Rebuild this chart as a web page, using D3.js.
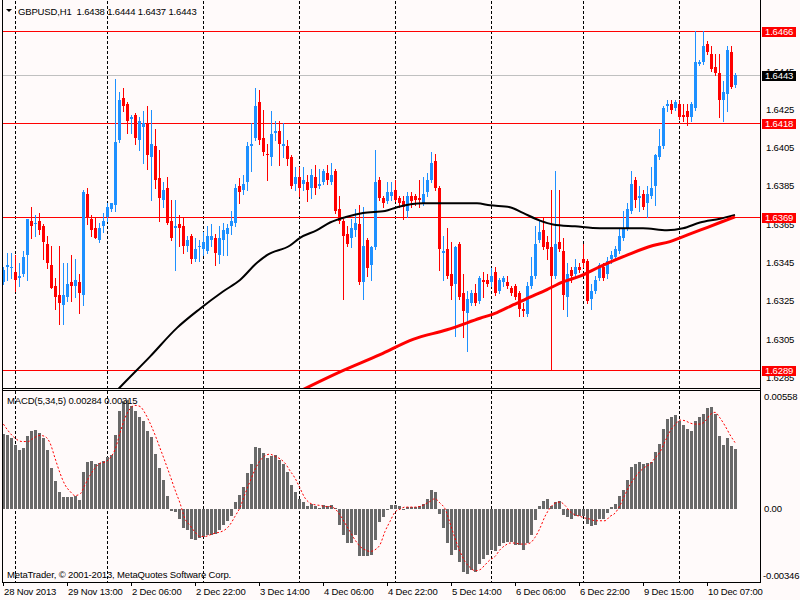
<!DOCTYPE html>
<html lang="en">
<head>
<meta charset="utf-8">
<script src="https://d3js.org/d3.v7.min.js"></script>
<style>
  body { margin: 0; background: #fffafa; }
  svg { display: block; font-family: "Liberation Sans", Arial, sans-serif; font-size: 9.5px; letter-spacing: -0.15px; }
  .grid { stroke: #000; stroke-width: 1; stroke-dasharray: 3,2; }
</style>
</head>
<body>
<div id="chart"></div>
<script>
// GBPUSD H1, 28 Nov 2013 21:00 .. 10 Dec 2013 14:00, one value per bar
var opens = [
  1.6335,1.6343,1.6342,1.6340,1.6337,1.6339,1.6349,1.6367,1.6365,1.6367,
  1.6364,1.6355,1.6344,1.6333,1.6328,1.6323,1.6327,1.6335,1.6333,1.6335,
  1.6328,1.6381,1.6368,1.6363,1.6357,1.6364,1.6369,1.6373,1.6375,1.6409,
  1.6431,1.6428,1.6420,1.6422,1.6409,1.6416,1.6418,1.6400,1.6406,1.6389,
  1.6378,1.6384,1.6367,1.6363,1.6365,1.6364,1.6354,1.6359,1.6347,1.6353,
  1.6352,1.6351,1.6357,1.6358,1.6349,1.6357,1.6360,1.6364,1.6366,1.6385,
  1.6383,1.6387,1.6406,1.6410,1.6429,1.6410,1.6402,1.6400,1.6413,1.6414,
  1.6406,1.6406,1.6400,1.6386,1.6390,1.6386,1.6387,1.6384,1.6390,1.6385,
  1.6387,1.6392,1.6387,1.6393,1.6373,1.6367,1.6360,1.6358,1.6362,1.6365,
  1.6335,1.6357,1.6344,1.6353,1.6388,1.6379,1.6377,1.6380,1.6383,1.6379,
  1.6377,1.6372,1.6380,1.6380,1.6379,1.6376,1.6382,1.6388,1.6398,1.6384,
  1.6350,1.6352,1.6339,1.6334,1.6355,1.6329,1.6319,1.6324,1.6329,1.6325,
  1.6336,1.6336,1.6335,1.6340,1.6330,1.6335,1.6335,1.6332,1.6333,1.6329,
  1.6321,1.6318,1.6333,1.6338,1.6357,1.6362,1.6356,1.6353,1.6338,1.6356,
  1.6351,1.6327,1.6341,1.6339,1.6343,1.6347,1.6346,1.6326,1.6330,1.6337,
  1.6343,1.6339,1.6347,1.6348,1.6351,1.6358,1.6363,1.6372,1.6388,1.6379,
  1.6381,1.6376,1.6380,1.6385,1.6400,1.6406,1.6427,1.6428,1.6426,1.6428,
  1.6422,1.6424,1.6421,1.6426,1.6449,1.6450,1.6459,1.6454,1.6447,1.6444,
  1.6430,1.6433,1.6455,1.6438];
var highs = [
  1.6343,1.6350,1.6350,1.6349,1.6345,1.6351,1.6368,1.6374,1.6370,1.6371,
  1.6365,1.6359,1.6354,1.6337,1.6354,1.6345,1.6345,1.6349,1.6347,1.6339,
  1.6383,1.6384,1.6370,1.6369,1.6366,1.6371,1.6376,1.6376,1.6441,1.6434,
  1.6436,1.6429,1.6422,1.6423,1.6421,1.6424,1.6427,1.6425,1.6415,1.6404,
  1.6387,1.6390,1.6378,1.6378,1.6370,1.6369,1.6359,1.6360,1.6358,1.6357,
  1.6361,1.6364,1.6365,1.6360,1.6364,1.6366,1.6365,1.6372,1.6386,1.6389,
  1.6391,1.6408,1.6418,1.6436,1.6435,1.6425,1.6407,1.6424,1.6419,1.6419,
  1.6418,1.6409,1.6401,1.6395,1.6395,1.6395,1.6391,1.6394,1.6396,1.6394,
  1.6394,1.6396,1.6397,1.6394,1.6380,1.6368,1.6364,1.6368,1.6373,1.6375,
  1.6374,1.6358,1.6354,1.6404,1.6390,1.6380,1.6387,1.6387,1.6388,1.6380,
  1.6380,1.6382,1.6382,1.6381,1.6388,1.6390,1.6392,1.6403,1.6402,1.6385,
  1.6359,1.6363,1.6356,1.6354,1.6356,1.6339,1.6330,1.6331,1.6334,1.6338,
  1.6340,1.6339,1.6342,1.6343,1.6337,1.6338,1.6338,1.6333,1.6334,1.6330,
  1.6324,1.6335,1.6348,1.6364,1.6367,1.6369,1.6359,1.6383,1.6393,1.6383,
  1.6358,1.6345,1.6343,1.6347,1.6345,1.6355,1.6347,1.6334,1.6338,1.6345,
  1.6345,1.6348,1.6351,1.6354,1.6363,1.6372,1.6376,1.6393,1.6390,1.6385,
  1.6383,1.6385,1.6395,1.6402,1.6415,1.6427,1.6430,1.6430,1.6430,1.6430,
  1.6428,1.6428,1.6429,1.6466,1.6451,1.6466,1.6461,1.6458,1.6454,1.6454,
  1.6440,1.6458,1.6458,1.6444];
var lows = [
  1.6334,1.6336,1.6337,1.6330,1.6333,1.6338,1.6336,1.6358,1.6359,1.6360,
  1.6347,1.6342,1.6332,1.6321,1.6313,1.6313,1.6325,1.6325,1.6327,1.6319,
  1.6323,1.6365,1.6359,1.6358,1.6356,1.6361,1.6367,1.6372,1.6372,1.6408,
  1.6424,1.6413,1.6413,1.6407,1.6404,1.6397,1.6394,1.6378,1.6384,1.6367,
  1.6374,1.6365,1.6357,1.6341,1.6354,1.6350,1.6351,1.6345,1.6346,1.6346,
  1.6349,1.6350,1.6354,1.6344,1.6345,1.6349,1.6349,1.6360,1.6364,1.6376,
  1.6381,1.6383,1.6393,1.6409,1.6407,1.6401,1.6388,1.6396,1.6409,1.6396,
  1.6400,1.6396,1.6384,1.6383,1.6380,1.6383,1.6377,1.6379,1.6381,1.6384,
  1.6386,1.6386,1.6386,1.6371,1.6366,1.6326,1.6354,1.6353,1.6359,1.6334,
  1.6326,1.6338,1.6336,1.6352,1.6378,1.6374,1.6376,1.6378,1.6377,1.6374,
  1.6368,1.6369,1.6374,1.6375,1.6374,1.6375,1.6380,1.6387,1.6383,1.6341,
  1.6336,1.6337,1.6326,1.6307,1.6326,1.6306,1.6299,1.6323,1.6323,1.6324,
  1.6327,1.6333,1.6333,1.6328,1.6329,1.6333,1.6332,1.6328,1.6326,1.6317,
  1.6317,1.6317,1.6332,1.6337,1.6356,1.6352,1.6347,1.6289,1.6337,1.6351,
  1.6321,1.6317,1.6335,1.6337,1.6340,1.6343,1.6324,1.6321,1.6329,1.6336,
  1.6336,1.6337,1.6345,1.6347,1.6350,1.6357,1.6362,1.6371,1.6374,1.6372,
  1.6373,1.6369,1.6379,1.6375,1.6399,1.6405,1.6424,1.6423,1.6425,1.6420,
  1.6419,1.6417,1.6419,1.6425,1.6448,1.6449,1.6454,1.6445,1.6443,1.6421,
  1.6419,1.6424,1.6436,1.6437];
var closes = [
  1.6341,1.6344,1.6343,1.6336,1.6338,1.6348,1.6368,1.6364,1.6366,1.6362,
  1.6356,1.6345,1.6332,1.6327,1.6324,1.6328,1.6334,1.6333,1.6336,1.6329,
  1.6382,1.6369,1.6362,1.6358,1.6363,1.6367,1.6374,1.6376,1.6408,1.6430,
  1.6427,1.6419,1.6421,1.6410,1.6419,1.6418,1.6401,1.6407,1.6388,1.6379,
  1.6383,1.6366,1.6358,1.6364,1.6363,1.6354,1.6357,1.6347,1.6352,1.6354,
  1.6356,1.6359,1.6359,1.6350,1.6358,1.6362,1.6363,1.6367,1.6384,1.6382,
  1.6386,1.6406,1.6407,1.6427,1.6409,1.6403,1.6401,1.6412,1.6414,1.6407,
  1.6407,1.6399,1.6385,1.6390,1.6384,1.6388,1.6383,1.6391,1.6384,1.6386,
  1.6393,1.6388,1.6391,1.6372,1.6367,1.6359,1.6355,1.6363,1.6366,1.6335,
  1.6354,1.6342,1.6353,1.6387,1.6379,1.6376,1.6382,1.6382,1.6378,1.6376,
  1.6374,1.6380,1.6377,1.6378,1.6378,1.6381,1.6388,1.6397,1.6384,1.6352,
  1.6351,1.6338,1.6333,1.6353,1.6327,1.6320,1.6326,1.6329,1.6324,1.6337,
  1.6335,1.6334,1.6338,1.6329,1.6336,1.6337,1.6333,1.6329,1.6327,1.6321,
  1.6320,1.6333,1.6338,1.6355,1.6361,1.6353,1.6352,1.6338,1.6355,1.6352,
  1.6328,1.6339,1.6338,1.6343,1.6341,1.6345,1.6325,1.6330,1.6336,1.6344,
  1.6337,1.6346,1.6349,1.6352,1.6359,1.6363,1.6373,1.6386,1.6378,1.6380,
  1.6374,1.6381,1.6384,1.6401,1.6406,1.6426,1.6428,1.6425,1.6429,1.6421,
  1.6421,1.6421,1.6428,1.6450,1.6450,1.6458,1.6455,1.6446,1.6444,1.6430,
  1.6434,1.6456,1.6437,1.6443];

// MACD(5,34,5) histogram, one value per bar
var macdHist = [
  0.00355,0.00352,0.00336,0.00305,0.00281,0.00289,0.00344,0.00368,0.00373,0.00360,
  0.00336,0.00281,0.00194,0.00130,0.00079,0.00056,0.00056,0.00056,0.00063,0.00043,
  0.00175,0.00222,0.00225,0.00213,0.00217,0.00225,0.00244,0.00257,0.00352,0.00463,
  0.00511,0.00519,0.00487,0.00463,0.00435,0.00416,0.00368,0.00340,0.00260,0.00194,
  0.00138,0.00063,-0.00010,-0.00013,-0.00048,-0.00092,-0.00100,-0.00143,-0.00148,-0.00140,
  -0.00132,-0.00124,-0.00124,-0.00121,-0.00100,-0.00079,-0.00057,-0.00036,0.00032,0.00067,
  0.00102,0.00170,0.00213,0.00292,0.00289,0.00265,0.00241,0.00249,0.00254,0.00233,
  0.00213,0.00175,0.00111,0.00079,0.00048,0.00032,0.00011,0.00022,0.00011,0.00006,
  0.00016,0.00011,0.00016,0.00002,-0.00076,-0.00124,-0.00163,-0.00163,-0.00124,-0.00227,
  -0.00227,-0.00227,-0.00219,-0.00148,-0.00063,-0.00040,-0.00005,0.00019,0.00019,0.00014,
  -0.00005,0.00008,0.00008,0.00008,0.00014,0.00024,0.00048,0.00089,0.00079,-0.00025,
  -0.00092,-0.00163,-0.00219,-0.00195,-0.00254,-0.00301,-0.00309,-0.00290,-0.00301,-0.00263,
  -0.00240,-0.00219,-0.00195,-0.00200,-0.00179,-0.00163,-0.00159,-0.00159,-0.00171,-0.00171,
  -0.00195,-0.00163,-0.00124,-0.00052,0.00014,0.00038,0.00048,0.00014,0.00030,0.00035,
  -0.00029,-0.00040,-0.00048,-0.00036,-0.00036,-0.00036,-0.00073,-0.00084,-0.00076,-0.00049,
  -0.00049,-0.00021,0.00010,0.00022,0.00062,0.00090,0.00136,0.00198,0.00213,0.00222,
  0.00213,0.00217,0.00222,0.00270,0.00309,0.00381,0.00427,0.00436,0.00444,0.00420,
  0.00397,0.00379,0.00371,0.00416,0.00435,0.00451,0.00479,0.00482,0.00451,0.00344,
  0.00305,0.00336,0.00297,0.00284];

// signal line, read at these bar positions
var sigPos = [0.1,1.3,3,4.7,6.3,7.6,9.25,10.5,11.75,13,14.25,15.5,16.75,18,19.25,20.5,21.75,23,24.25,25.5,
  26.75,28,29.25,30.5,31.75,33,34.25,35.5,36.75,38,39.25,40.5,41.75,43,44.25,45.5,46.75,48,49.25,50.5,
  51.75,53,54.25,55.5,56.75,58,59.25,60.5,61.75,63,64.25,65.5,66.75,68,69.25,70.5,71.75,73,74.25,75.5,
  76.75,78,79.25,80.5,81.75,83,84.25,85.5,86.75,88,89.25,90.5,91.75,
  93,94.25,95.5,96.75,98,99.25,100.5,101.75,103,104.25,105.5,106.75,108,109.25,110.5,111.75,113,114.25,
  115.5,116.75,118,119.25,120.5,121.75,123,124.25,125.5,126.75,128,129.25,130.5,131.75,133,134.25,135.5,
  136.75,138,139.25,140.5,141.75,143,144.25,145.5,146.75,148,149.25,150.5,151.75,153,154.25,155.5,156.75,
  158,159.25,160.5,161.75,163,164.25,165.5,166.75,168,169.25,170.5,171.75,173,174.25,175.5,176.75,178,
  179.25,180.5,181.75,183];
var sigVal = [0.00403,0.00371,0.00336,0.00320,0.00320,0.00336,0.00349,0.00344,0.00313,0.00241,
  0.00170,0.00114,0.00083,0.00063,0.00070,0.00114,0.00159,0.00194,0.00217,0.00222,
  0.00241,0.00281,0.00360,0.00432,0.00476,0.00492,0.00487,0.00455,0.00408,0.00352,
  0.00289,0.00225,0.00159,0.00090,0.00027,-0.00048,-0.00079,-0.00111,-0.00132,-0.00132,
  -0.00124,-0.00116,-0.00111,-0.00100,-0.00076,-0.00036,0.00006,0.00070,0.00130,0.00186,
  0.00228,0.00252,0.00260,0.00249,0.00238,0.00217,0.00181,0.00146,0.00098,0.00051,
  0.00027,0.00019,0.00016,0.00011,0.00011,0.00000,-0.00029,-0.00068,-0.00108,-0.00148,
  -0.00179,-0.00195,-0.00203,
  -0.00195,-0.00171,-0.00108,-0.00060,-0.00016,-0.00002,0.00008,0.00008,0.00008,0.00011,
  0.00022,0.00035,0.00048,0.00027,0.00000,-0.00068,-0.00140,-0.00203,-0.00251,-0.00279,
  -0.00295,-0.00290,-0.00267,-0.00243,-0.00227,-0.00195,-0.00175,-0.00163,-0.00163,-0.00168,
  -0.00168,-0.00163,-0.00136,-0.00092,-0.00036,0.00003,0.00027,0.00032,0.00016,-0.00013,
  -0.00029,-0.00036,-0.00044,-0.00049,-0.00057,-0.00057,-0.00057,-0.00036,-0.00021,0.00016,
  0.00067,0.00114,0.00149,0.00178,0.00198,0.00213,0.00241,0.00270,0.00320,0.00368,
  0.00400,0.00422,0.00419,0.00408,0.00403,0.00403,0.00416,0.00447,0.00459,0.00432,
  0.00395,0.00352,0.00315];

// moving averages (black = fast, red = slow), read at bar positions
var maFastPos = [27,29.25,36.75,43.5,49.25,55,59.25,63.5,66,71.75,74.25,78.5,81.75,86,90,95.5,98.5,105,
  118.5,121.75,126.75,130,134.25,137.5,143,149.25,160,166,170,174.25,179.25,183];
var maFastVal = [1.6275,1.6280,1.6296,1.6311,1.6321,1.6330,1.6336,1.6345,1.6349,1.6354,1.6358,1.6362,
  1.6366,1.6369,1.6371,1.6372,1.6374,1.6376,1.6376,1.6375,1.6374,1.6371,1.6367,1.6365,1.6364,1.6363,
  1.6363,1.6362,1.6363,1.6366,1.6368,1.6370];
var maSlowPos = [74.25,84.25,94.25,102.5,111,119.25,123.5,127.5,131.75,136,140,144.25,149.25,156,162.5,
  166.75,169.25,174.25,179.25,183];
var maSlowVal = [1.6278,1.6288,1.6297,1.6305,1.6310,1.6316,1.6319,1.6323,1.6327,1.6331,1.6335,1.6338,
  1.6343,1.6349,1.6354,1.6356,1.6358,1.6362,1.6366,1.6369];

// horizontal levels and labels
var levels = [1.6466, 1.6418, 1.6369, 1.6289];
var bidPrice = 1.6443;
var priceTicks = [1.6445, 1.6425, 1.6405, 1.6385, 1.6365, 1.6345, 1.6325, 1.6305, 1.6285];
var macdTicks = [0.00558, 0.00, -0.00346];
var macdTickLabels = ["0.00558", "0.00", "-0.00346"];
var dayStarts = [3, 26, 50, 74, 98, 122, 145, 169];
var timeTickIdx = [0, 16, 32, 48, 64, 80, 96, 112, 128, 144, 160, 176];
var timeTickLabels = ["28 Nov 2013", "29 Nov 13:00", "2 Dec 06:00", "2 Dec 22:00", "3 Dec 14:00",
  "4 Dec 06:00", "4 Dec 22:00", "5 Dec 14:00", "6 Dec 06:00", "6 Dec 22:00", "9 Dec 15:00", "10 Dec 07:00"];

var width = 800, height = 600;
var main = {left: 2, right: 760, top: 1, bottom: 388};
var sub = {top: 391, bottom: 582};
var blue = "#1e90ff", red = "#ff0000";

var svg = d3.select("#chart").append("svg")
  .attr("width", width)
  .attr("height", height);

svg.append("rect").attr("width", width).attr("height", height).attr("fill", "#fffafa");

var x = d3.scaleLinear().domain([0, 183]).range([3, 735]);
var y = d3.scaleLinear().domain([1.6289, 1.6466]).range([370, 31]);
var yM = d3.scaleLinear().domain([-0.00346, 0.00558]).range([581.5, 391.5]);

var defs = svg.append("defs");
defs.append("clipPath").attr("id", "clipMain").append("rect")
  .attr("x", main.left + 1).attr("y", main.top + 1)
  .attr("width", main.right - main.left - 1).attr("height", main.bottom - main.top - 1);
defs.append("clipPath").attr("id", "clipSub").append("rect")
  .attr("x", main.left + 1).attr("y", sub.top)
  .attr("width", main.right - main.left - 1).attr("height", sub.bottom - sub.top);

var px = function(i) { return Math.round(x(i)); };

// day separators in both panels
[[main.top, main.bottom], [sub.top, sub.bottom]].forEach(function(r) {
  svg.append("g").selectAll("line")
    .data(dayStarts)
    .enter().append("line")
      .attr("class", "grid")
      .attr("x1", function(d) { return px(d) + 0.5; })
      .attr("x2", function(d) { return px(d) + 0.5; })
      .attr("y1", r[0])
      .attr("y2", r[1]);
});

var gMain = svg.append("g").attr("clip-path", "url(#clipMain)");

// price levels, 1px bands
gMain.append("rect")
  .attr("x", main.left).attr("width", main.right - main.left)
  .attr("y", Math.round(y(bidPrice))).attr("height", 1)
  .attr("fill", "#c0c0c0");
gMain.append("g")
  .selectAll("rect")
  .data(levels)
  .enter().append("rect")
    .attr("x", main.left).attr("width", main.right - main.left)
    .attr("y", function(d) { return Math.round(y(d)); })
    .attr("height", 1)
    .attr("fill", red);

// candles
var bars = d3.range(opens.length).map(function(i) {
  return {i: i, o: opens[i], h: highs[i], l: lows[i], c: closes[i]};
});
var candle = gMain.append("g").attr("shape-rendering", "crispEdges")
  .selectAll("g")
  .data(bars)
  .enter().append("g")
    .attr("fill", function(d) { return d.c >= d.o ? blue : red; })
    .attr("stroke", function(d) { return d.c >= d.o ? blue : red; });
candle.append("line")
  .attr("x1", function(d) { return px(d.i) + 0.5; })
  .attr("x2", function(d) { return px(d.i) + 0.5; })
  .attr("y1", function(d) { return Math.round(y(d.h)); })
  .attr("y2", function(d) { return Math.round(y(d.l)) + 1; });
candle.append("rect")
  .attr("stroke", "none")
  .attr("x", function(d) { return px(d.i) - 1; })
  .attr("width", 3)
  .attr("y", function(d) { return Math.round(y(Math.max(d.o, d.c))); })
  .attr("height", function(d) {
    return Math.max(1, Math.round(y(Math.min(d.o, d.c))) - Math.round(y(Math.max(d.o, d.c))));
  });

// moving averages
var maLine = d3.line()
  .x(function(d) { return x(d[0]); })
  .y(function(d) { return y(d[1]); })
  .curve(d3.curveMonotoneX);
gMain.append("path")
  .datum(d3.zip(maFastPos, maFastVal))
  .attr("d", maLine)
  .attr("fill", "none").attr("stroke", "#000").attr("stroke-width", 2);
gMain.append("path")
  .datum(d3.zip(maSlowPos, maSlowVal))
  .attr("d", maLine)
  .attr("fill", "none").attr("stroke", red).attr("stroke-width", 3);

// MACD panel
var gSub = svg.append("g").attr("clip-path", "url(#clipSub)");
gSub.append("g").attr("shape-rendering", "crispEdges")
  .selectAll("rect")
  .data(macdHist)
  .enter().append("rect")
    .attr("x", function(d, i) { return px(i) - 1; })
    .attr("width", 3)
    .attr("y", function(d) { return Math.round(yM(Math.max(0, d))); })
    .attr("height", function(d) { return Math.max(1, Math.round(yM(Math.min(0, d))) - Math.round(yM(Math.max(0, d)))); })
    .attr("fill", "#696969");
gSub.append("path")
  .datum(d3.zip(sigPos, sigVal))
  .attr("d", d3.line()
    .x(function(d) { return x(d[0]); })
    .y(function(d) { return yM(d[1]); })
    .curve(d3.curveMonotoneX))
  .attr("fill", "none").attr("stroke", red).attr("stroke-width", 1)
  .attr("stroke-dasharray", "2,2");

// frames
var frame = svg.append("g").attr("fill", "none").attr("stroke", "#000").attr("shape-rendering", "crispEdges");
frame.append("line").attr("x1", main.left + 0.5).attr("x2", main.left + 0.5).attr("y1", 0).attr("y2", sub.bottom + 1);
frame.append("line").attr("x1", main.right + 0.5).attr("x2", main.right + 0.5).attr("y1", 0).attr("y2", sub.bottom + 1);
frame.append("line").attr("x1", main.left).attr("x2", main.right + 1).attr("y1", main.bottom + 0.5).attr("y2", main.bottom + 0.5);
frame.append("line").attr("x1", main.left).attr("x2", main.right + 1).attr("y1", sub.top - 0.5).attr("y2", sub.top - 0.5);
frame.append("line").attr("x1", main.left).attr("x2", main.right + 1).attr("y1", sub.bottom + 0.5).attr("y2", sub.bottom + 0.5);

// right price scale
svg.append("g").selectAll("text")
  .data(priceTicks)
  .enter().append("text")
    .attr("x", 766)
    .attr("y", function(d) { return y(d); })
    .attr("dy", "0.35em")
    .text(function(d) { return d.toFixed(4); });

var tags = svg.append("g").selectAll("g")
  .data(levels.map(function(d) { return {v: d, bg: red}; }).concat([{v: bidPrice, bg: "#000"}]))
  .enter().append("g");
tags.append("rect")
  .attr("x", 762).attr("width", 34)
  .attr("y", function(d) { return Math.round(y(d.v)) - 4; })
  .attr("height", 10)
  .attr("fill", function(d) { return d.bg; });
tags.append("text")
  .attr("x", 765)
  .attr("y", function(d) { return Math.round(y(d.v)) + 1; })
  .attr("dy", "0.35em")
  .attr("fill", "#fff")
  .text(function(d) { return d.v.toFixed(4); });

// MACD scale
svg.append("g").selectAll("text")
  .data(macdTicks)
  .enter().append("text")
    .attr("x", function(d) { return d < 0 ? 763 : 764; })
    .attr("y", function(d, i) { return i == 0 ? yM(d) + 5 : (i == 2 ? yM(d) - 6 : yM(d)); })
    .attr("dy", "0.35em")
    .text(function(d, i) { return macdTickLabels[i]; });

// time axis
var tick = svg.append("g").selectAll("g")
  .data(timeTickIdx)
  .enter().append("g");
tick.append("line")
  .attr("x1", function(d) { return px(d) + 0.5; })
  .attr("x2", function(d) { return px(d) + 0.5; })
  .attr("y1", sub.bottom).attr("y2", sub.bottom + 4)
  .attr("stroke", "#000");
tick.append("text")
  .attr("x", function(d) { return px(d) + 1; })
  .attr("y", 595)
  .text(function(d, i) { return timeTickLabels[i]; });

// captions
svg.append("path").attr("d", "M6,9L12,9L9,12Z").attr("fill", "#000");
svg.append("text").attr("x", 18).attr("y", 14.5)
  .attr("xml:space", "preserve")
  .style("white-space", "pre")
  .text("GBPUSD,H1  1.6438 1.6444 1.6437 1.6443");
svg.append("text").attr("x", 7).attr("y", 404)
  .text("MACD(5,34,5) 0.00284 0.00315");
svg.append("text").attr("x", 7).attr("y", 578)
  .text("MetaTrader, \u00a9 2001-2013, MetaQuotes Software Corp.");
</script>
</body>
</html>
